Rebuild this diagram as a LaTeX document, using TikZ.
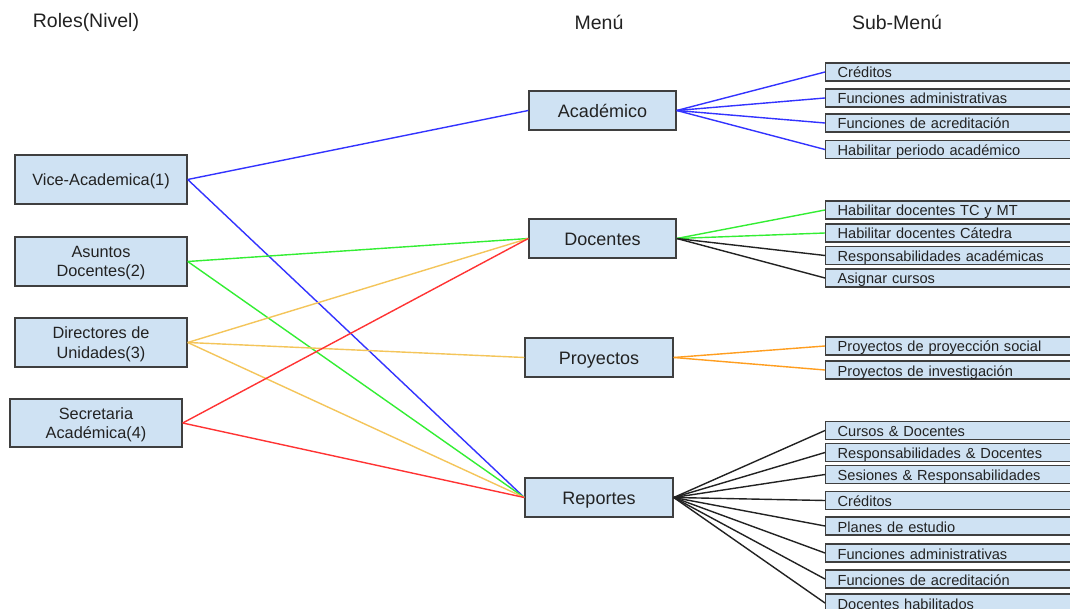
\documentclass[tikz,border=0pt]{standalone}
\usepackage{fontspec}
\setmainfont{Liberation Sans}
\definecolor{boxfill}{HTML}{CFE2F3}
\definecolor{boxline}{HTML}{3F3F3F}
\definecolor{txt}{HTML}{222222}
\definecolor{lblue}{HTML}{3333FF}
\definecolor{lgreen}{HTML}{33EE33}
\definecolor{lyellow}{HTML}{F4C55A}
\definecolor{lorange}{HTML}{FF9E1F}
\definecolor{lred}{HTML}{FF3333}
\definecolor{lblack}{HTML}{222222}
\tikzset{
  rolebox/.style={draw=boxline, fill=boxfill, line width=1.4pt, minimum width=172pt, minimum height=49pt, align=center, font=\fontsize{16.3}{19.5}\selectfont, text=txt, inner sep=0pt, text depth=-3pt},
  menubox/.style={draw=boxline, fill=boxfill, line width=1.4pt, minimum width=147pt, minimum height=39pt, font=\fontsize{18}{21}\selectfont, text=txt, inner sep=0pt, text height=15pt, text depth=1pt},
  subbox/.style={draw=boxline, fill=boxfill, line width=1.3pt, anchor=west, text width=233pt, align=left, inner xsep=12pt, inner ysep=0pt, minimum height=18pt, text height=13pt, text depth=1pt, font=\fontsize{14.6}{16}\selectfont, text=txt},
  title/.style={font=\fontsize{19.5}{22}\selectfont, text=txt},
  conn/.style={line width=1.4pt},
}
\begin{document}
\begin{tikzpicture}[x=1pt,y=-1pt]
\useasboundingbox (0,0) rectangle (1070,609);
\clip (0,0) rectangle (1070,609);
\fill[white] (0,0) rectangle (1070,609);
% titles
\node[title] (t1) at (86,22) {Roles(Nivel)};
\node[title] (t2) at (599,22) {Menú};
\node[title] (t3) at (897,22) {Sub-Menú};
% roles
\node[rolebox] (vice) at (101,179.5) {Vice-Academica(1)};
\node[rolebox] (asun) at (101,261.5) {Asuntos\\Docentes(2)};
\node[rolebox] (dir) at (101,342.5) {Directores de\\Unidades(3)};
\node[rolebox, minimum height=48pt] (sec) at (96,423) {Secretaria\\Académica(4)};
% menus
\node[menubox] (acad) at (602.5,110.5) {Académico};
\node[menubox] (doc) at (602.5,238.5) {Docentes};
\node[menubox, minimum width=148pt] (proy) at (599,357.5) {Proyectos};
\node[menubox, minimum width=148pt] (rep) at (599,497.5) {Reportes};
% sub menus
\node[subbox] (a1) at (825,72) {Créditos};
\node[subbox] (a2) at (825,98) {Funciones administrativas};
\node[subbox] (a3) at (825,123) {Funciones de acreditación};
\node[subbox] (a4) at (825,149.5) {Habilitar periodo académico};
\node[subbox] (d1) at (825,210) {Habilitar docentes TC y MT};
\node[subbox] (d2) at (825,233) {Habilitar docentes Cátedra};
\node[subbox] (d3) at (825,255.5) {Responsabilidades académicas};
\node[subbox] (d4) at (825,278) {Asignar cursos};
\node[subbox] (p1) at (825,346) {Proyectos de proyección social};
\node[subbox] (p2) at (825,370) {Proyectos de investigación};
\node[subbox] (r1) at (825,430.5) {Cursos \& Docentes};
\node[subbox] (r2) at (825,452.5) {Responsabilidades \& Docentes};
\node[subbox] (r3) at (825,474.5) {Sesiones \& Responsabilidades};
\node[subbox] (r4) at (825,500.5) {Créditos};
\node[subbox] (r5) at (825,526) {Planes de estudio};
\node[subbox] (r6) at (825,553) {Funciones administrativas};
\node[subbox] (r7) at (825,579) {Funciones de acreditación};
\node[subbox] (r8) at (825,603) {Docentes habilitados};
% role connectors
\draw[conn, lblue] (vice.east) -- (acad.west);
\draw[conn, lblue] (vice.east) -- (rep.west);
\draw[conn, lgreen] (asun.east) -- (doc.west);
\draw[conn, lgreen] (asun.east) -- (rep.west);
\draw[conn, lyellow] (dir.east) -- (doc.west);
\draw[conn, lyellow] (dir.east) -- (proy.west);
\draw[conn, lyellow] (dir.east) -- (rep.west);
\draw[conn, lred] (sec.east) -- (doc.west);
\draw[conn, lred] (sec.east) -- (rep.west);
% sub connectors
\foreach \s in {a1,a2,a3,a4} \draw[conn, lblue] (acad.east) -- (\s.west);
\foreach \s in {d1,d2} \draw[conn, lgreen] (doc.east) -- (\s.west);
\foreach \s in {d3,d4} \draw[conn, lblack] (doc.east) -- (\s.west);
\foreach \s in {p1,p2} \draw[conn, lorange] (proy.east) -- (\s.west);
\foreach \s in {r1,r2,r3,r4,r5,r6,r7,r8} \draw[conn, lblack] (rep.east) -- (\s.west);
\end{tikzpicture}
\end{document}
